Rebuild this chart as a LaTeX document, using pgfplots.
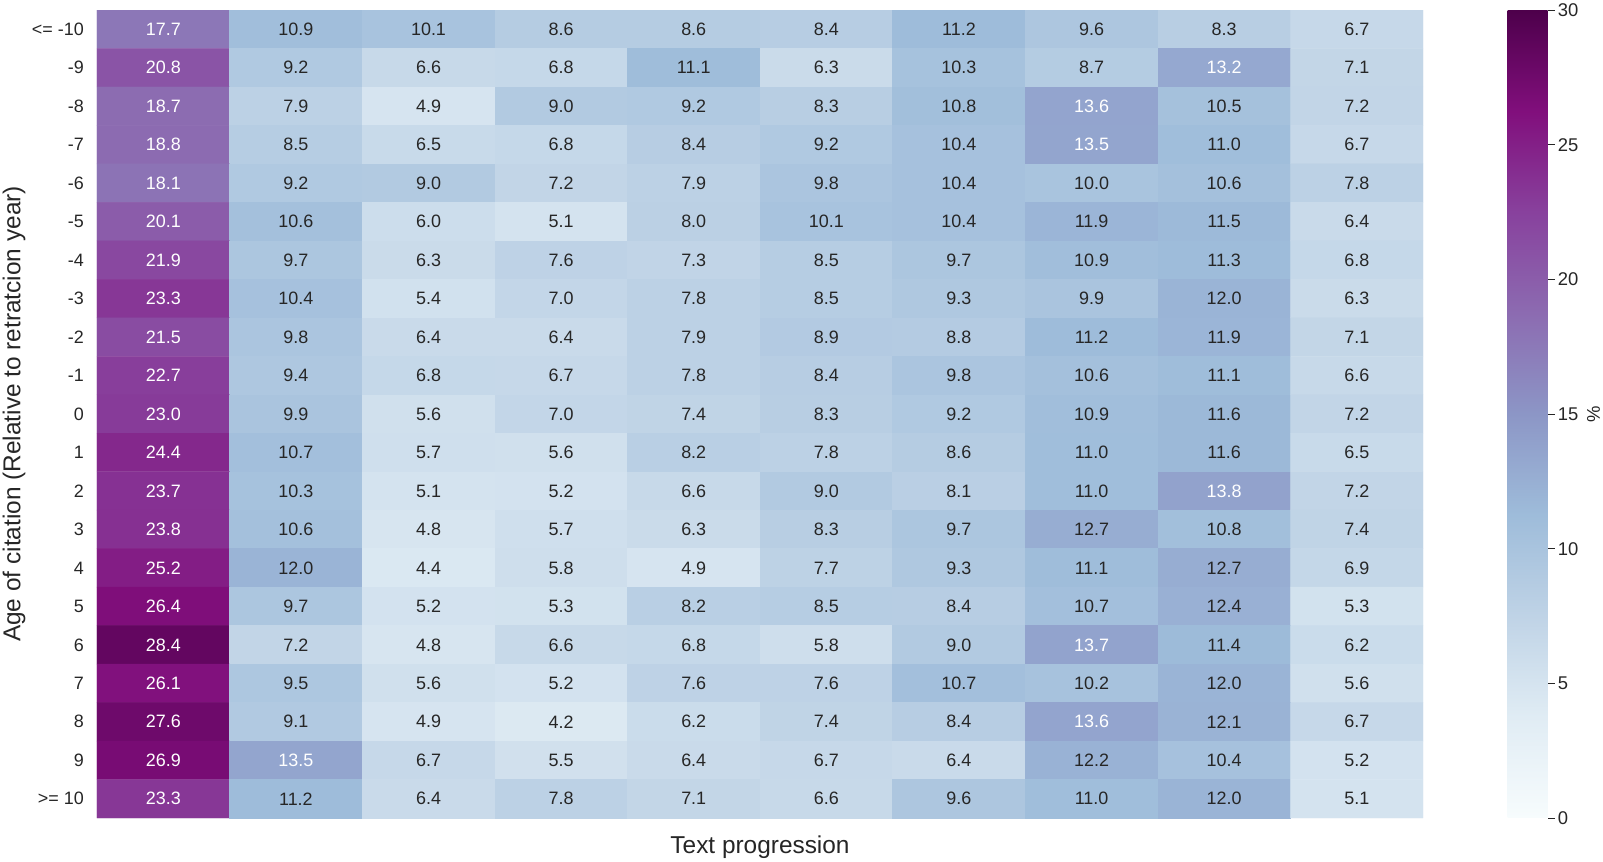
\documentclass[border=0pt]{standalone}
\usepackage{pgfplots}
\pgfplotsset{compat=1.18}
\usepackage{pgfplotstable}
\usepackage{fontspec}
\setmainfont{Liberation Sans}
\definecolor{txt}{HTML}{262626}
\pgfplotstableread[row sep=\\]{
x y v\\
0 0 17.7\\ 1 0 10.9\\ 2 0 10.1\\ 3 0 8.6\\ 4 0 8.6\\ 5 0 8.4\\ 6 0 11.2\\ 7 0 9.6\\ 8 0 8.3\\ 9 0 6.7\\
0 1 20.8\\ 1 1 9.2\\ 2 1 6.6\\ 3 1 6.8\\ 4 1 11.1\\ 5 1 6.3\\ 6 1 10.3\\ 7 1 8.7\\ 8 1 13.2\\ 9 1 7.1\\
0 2 18.7\\ 1 2 7.9\\ 2 2 4.9\\ 3 2 9.0\\ 4 2 9.2\\ 5 2 8.3\\ 6 2 10.8\\ 7 2 13.6\\ 8 2 10.5\\ 9 2 7.2\\
0 3 18.8\\ 1 3 8.5\\ 2 3 6.5\\ 3 3 6.8\\ 4 3 8.4\\ 5 3 9.2\\ 6 3 10.4\\ 7 3 13.5\\ 8 3 11.0\\ 9 3 6.7\\
0 4 18.1\\ 1 4 9.2\\ 2 4 9.0\\ 3 4 7.2\\ 4 4 7.9\\ 5 4 9.8\\ 6 4 10.4\\ 7 4 10.0\\ 8 4 10.6\\ 9 4 7.8\\
0 5 20.1\\ 1 5 10.6\\ 2 5 6.0\\ 3 5 5.1\\ 4 5 8.0\\ 5 5 10.1\\ 6 5 10.4\\ 7 5 11.9\\ 8 5 11.5\\ 9 5 6.4\\
0 6 21.9\\ 1 6 9.7\\ 2 6 6.3\\ 3 6 7.6\\ 4 6 7.3\\ 5 6 8.5\\ 6 6 9.7\\ 7 6 10.9\\ 8 6 11.3\\ 9 6 6.8\\
0 7 23.3\\ 1 7 10.4\\ 2 7 5.4\\ 3 7 7.0\\ 4 7 7.8\\ 5 7 8.5\\ 6 7 9.3\\ 7 7 9.9\\ 8 7 12.0\\ 9 7 6.3\\
0 8 21.5\\ 1 8 9.8\\ 2 8 6.4\\ 3 8 6.4\\ 4 8 7.9\\ 5 8 8.9\\ 6 8 8.8\\ 7 8 11.2\\ 8 8 11.9\\ 9 8 7.1\\
0 9 22.7\\ 1 9 9.4\\ 2 9 6.8\\ 3 9 6.7\\ 4 9 7.8\\ 5 9 8.4\\ 6 9 9.8\\ 7 9 10.6\\ 8 9 11.1\\ 9 9 6.6\\
0 10 23.0\\ 1 10 9.9\\ 2 10 5.6\\ 3 10 7.0\\ 4 10 7.4\\ 5 10 8.3\\ 6 10 9.2\\ 7 10 10.9\\ 8 10 11.6\\ 9 10 7.2\\
0 11 24.4\\ 1 11 10.7\\ 2 11 5.7\\ 3 11 5.6\\ 4 11 8.2\\ 5 11 7.8\\ 6 11 8.6\\ 7 11 11.0\\ 8 11 11.6\\ 9 11 6.5\\
0 12 23.7\\ 1 12 10.3\\ 2 12 5.1\\ 3 12 5.2\\ 4 12 6.6\\ 5 12 9.0\\ 6 12 8.1\\ 7 12 11.0\\ 8 12 13.8\\ 9 12 7.2\\
0 13 23.8\\ 1 13 10.6\\ 2 13 4.8\\ 3 13 5.7\\ 4 13 6.3\\ 5 13 8.3\\ 6 13 9.7\\ 7 13 12.7\\ 8 13 10.8\\ 9 13 7.4\\
0 14 25.2\\ 1 14 12.0\\ 2 14 4.4\\ 3 14 5.8\\ 4 14 4.9\\ 5 14 7.7\\ 6 14 9.3\\ 7 14 11.1\\ 8 14 12.7\\ 9 14 6.9\\
0 15 26.4\\ 1 15 9.7\\ 2 15 5.2\\ 3 15 5.3\\ 4 15 8.2\\ 5 15 8.5\\ 6 15 8.4\\ 7 15 10.7\\ 8 15 12.4\\ 9 15 5.3\\
0 16 28.4\\ 1 16 7.2\\ 2 16 4.8\\ 3 16 6.6\\ 4 16 6.8\\ 5 16 5.8\\ 6 16 9.0\\ 7 16 13.7\\ 8 16 11.4\\ 9 16 6.2\\
0 17 26.1\\ 1 17 9.5\\ 2 17 5.6\\ 3 17 5.2\\ 4 17 7.6\\ 5 17 7.6\\ 6 17 10.7\\ 7 17 10.2\\ 8 17 12.0\\ 9 17 5.6\\
0 18 27.6\\ 1 18 9.1\\ 2 18 4.9\\ 3 18 4.2\\ 4 18 6.2\\ 5 18 7.4\\ 6 18 8.4\\ 7 18 13.6\\ 8 18 12.1\\ 9 18 6.7\\
0 19 26.9\\ 1 19 13.5\\ 2 19 6.7\\ 3 19 5.5\\ 4 19 6.4\\ 5 19 6.7\\ 6 19 6.4\\ 7 19 12.2\\ 8 19 10.4\\ 9 19 5.2\\
0 20 23.3\\ 1 20 11.2\\ 2 20 6.4\\ 3 20 7.8\\ 4 20 7.1\\ 5 20 6.6\\ 6 20 9.6\\ 7 20 11.0\\ 8 20 12.0\\ 9 20 5.1\\
}\heat
\pgfplotsset{
  annot/.style={draw=none, mark=none,
    point meta=\thisrow{v},
    nodes near coords={\pgfmathprintnumber[fixed,fixed zerofill,precision=1,assume math mode=true]{\pgfplotspointmeta}},
    every node near coord/.append style={font=\fontsize{18}{20}\selectfont, inner sep=0pt, anchor=center, text=#1}},
}
\begin{document}
\begin{tikzpicture}
\path[use as bounding box] (-97bp,-44bp) rectangle (1506bp,818bp);
\begin{axis}[
  scale only axis, width=1326bp, height=808bp,
  at={(0,0)}, anchor=south west,
  xmin=-0.5, xmax=9.5, ymin=-0.5, ymax=20.5, y dir=reverse,
  axis line style={draw=none},
  xtick=\empty,
  ytick={0,...,20},
  yticklabels={{<= -10},-9,-8,-7,-6,-5,-4,-3,-2,-1,0,1,2,3,4,5,6,7,8,9,{>= 10}},
  ytick style={draw=none},
  yticklabel style={font=\fontsize{18}{20}\selectfont, text=txt, inner sep=0pt, xshift=-13bp},
  /pgf/number format/assume math mode=true,
  colormap={bupu}{rgb255=(247,252,253) rgb255=(224,236,244) rgb255=(191,211,230) rgb255=(158,188,218) rgb255=(140,150,198) rgb255=(140,107,177) rgb255=(136,65,157) rgb255=(129,15,124) rgb255=(77,0,75)},
  point meta min=0, point meta max=30,
  colorbar,
  colorbar/width=40bp,
  colorbar style={
    at={(parent axis.north east)}, anchor=north west,
    xshift=76bp,
    scale only axis,
    width=40bp,
    ytick={0,5,...,30},
    ytick pos=right,
    yticklabel pos=right,
    tick align=outside,
    major tick length=7bp,
    ytick style={draw=txt, line width=0.9bp},
    axis line style={draw=none},
    yticklabel style={font=\fontsize{18.5}{20}\selectfont, text=txt, inner sep=0pt, xshift=3bp, /pgf/number format/assume math mode=true},
    ylabel={\%},
    ylabel style={at={(axis description cs:2.15,0.5)}, anchor=center, font=\fontsize{18.5}{20}\selectfont, text=txt},
  },
  xlabel={Text progression},
  xlabel style={at={(axis description cs:0.5,-0.036)}, anchor=center, font=\fontsize{24.5}{28}\selectfont, text=txt},
  ylabel={Age of citation (Relative to retratcion year)},
  ylabel style={at={(axis description cs:-0.0626,0.5)}, anchor=center, font=\fontsize{24.5}{28}\selectfont, text=txt},
]
\addplot[matrix plot*, mesh/cols=10, point meta=explicit] table[x=x, y=y, meta=v]{\heat};
\addplot[annot=txt, restrict expr to domain={\thisrow{v}}{0:13}] table[x=x, y=y]{\heat};
\addplot[annot=white, restrict expr to domain={\thisrow{v}}{13:30}] table[x=x, y=y]{\heat};
\end{axis}
\end{tikzpicture}
\end{document}
